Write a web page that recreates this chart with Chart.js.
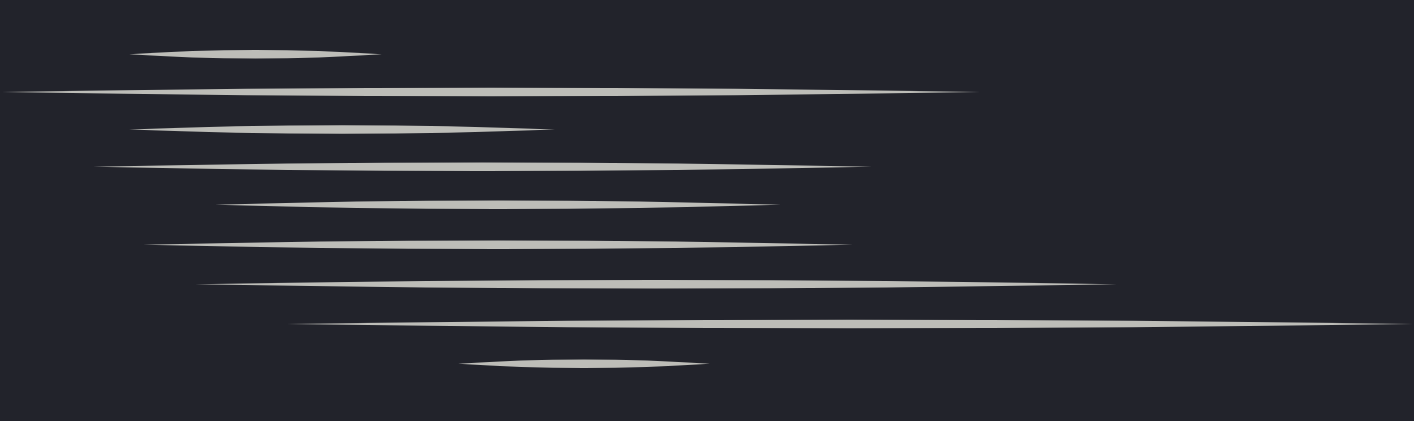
<!DOCTYPE html>
<html>
<head>
<meta charset="utf-8">
<script src="https://cdn.jsdelivr.net/npm/chart.js@4"></script>
<style>
  html, body { margin: 0; padding: 0; background: #22232b; }
  #wrap { width: 1414px; height: 421px; }
</style>
</head>
<body>
<div id="wrap"><canvas id="spindleChart"></canvas></div>
<script>
// data
const rows = ['r1', 'r2', 'r3', 'r4', 'r5', 'r6', 'r7', 'r8', 'r9'];
const rowPos = [54.3, 92, 129.5, 166.8, 204.8, 244.7, 284.3, 324, 363.7];
const starts = [129, 2, 129, 93, 215, 143, 195, 287, 458];
const ends = [382, 980, 555, 872, 781, 853, 1117, 1413, 710];

const bars = rows.map(function (r, i) {
    return { x: [starts[i], ends[i]], y: rowPos[i] };
});

// draw every bar as a pointed lens instead of a box
const lensPlugin = {
    id: 'lens',
    afterDatasetsDraw: function (chart) {
        const ctx = chart.ctx;
        const meta = chart.getDatasetMeta(0);
        ctx.save();
        ctx.fillStyle = '#bdbdb8';
        meta.data.forEach(function (bar) {
            const p = bar.getProps(['x', 'base', 'y', 'height'], true);
            const left = Math.min(p.x, p.base);
            const right = Math.max(p.x, p.base);
            const mid = (left + right) / 2;
            ctx.beginPath();
            ctx.moveTo(left, p.y);
            ctx.quadraticCurveTo(mid, p.y - p.height, right, p.y);
            ctx.quadraticCurveTo(mid, p.y + p.height, left, p.y);
            ctx.closePath();
            ctx.fill();
        });
        ctx.restore();
    }
};

const config = {
    type: 'bar',
    data: {
        datasets: [{
            data: bars,
            backgroundColor: 'rgba(0,0,0,0)',
            borderWidth: 0,
            barThickness: 8.5
        }]
    },
    options: {
        indexAxis: 'y',
        responsive: true,
        maintainAspectRatio: false,
        animation: false,
        layout: { padding: 0 },
        plugins: {
            legend: { display: false },
            tooltip: { enabled: false }
        },
        scales: {
            x: { type: 'linear', min: 0, max: 1414, display: false },
            y: { type: 'linear', min: 0, max: 421, reverse: true, offset: false, display: false }
        }
    },
    plugins: [lensPlugin]
};

function createChart() {
    const canvas = document.getElementById('spindleChart');
    if (canvas) {
        new Chart(canvas, config);
    }
}

window.addEventListener('load', createChart);
</script>
</body>
</html>
